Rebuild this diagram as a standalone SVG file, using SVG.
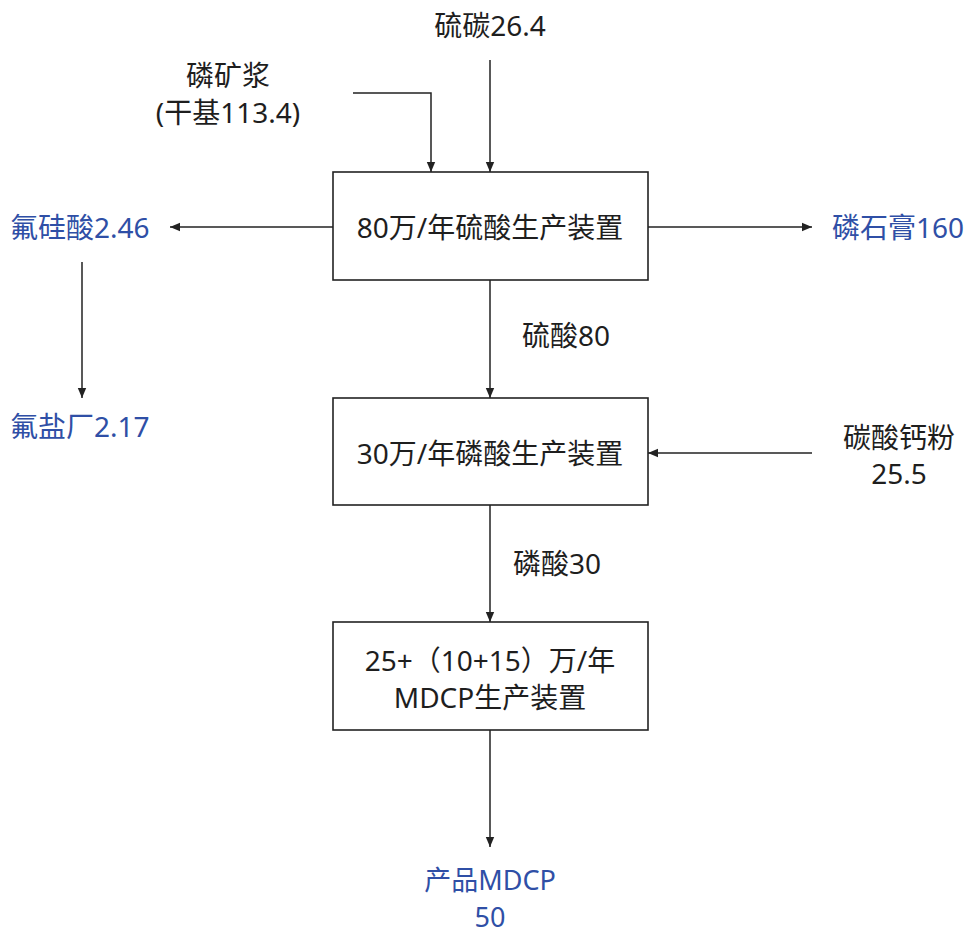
<svg xmlns="http://www.w3.org/2000/svg" width="974" height="934" viewBox="0 0 974 934">
<style>
text{font-family:"Noto Sans","Noto Sans CJK SC",sans-serif;font-size:28px;dominant-baseline:central;fill:#1e1e1e}
.b{fill:#2f4fa6}
.m{text-anchor:middle}
.p{font-size:27px}
.box{fill:#fff;stroke:#222;stroke-width:1.6}
.c{fill:none;stroke:#222;stroke-width:1.5;marker-end:url(#ah)}
</style>
<defs>
<marker id="ah" viewBox="0 0 10 10" refX="10" refY="5" markerWidth="10" markerHeight="10" markerUnits="userSpaceOnUse" orient="auto">
<path d="M0,0.8 L10,5 L0,9.2 Z" fill="#222"/>
</marker>
</defs>
<rect width="974" height="934" fill="#fff"/>
<g id="connectors">
<path class="c" d="M490,60 V172"/>
<path class="c" d="M353,93 H431 V172"/>
<path class="c" d="M333,227 H170"/>
<path class="c" d="M82,262 V398"/>
<path class="c" d="M648,227 H812"/>
<path class="c" d="M490,280 V398"/>
<path class="c" d="M812,453 H648"/>
<path class="c" d="M490,505 V622"/>
<path class="c" d="M490,730 V847"/>
</g>
<g id="n-sulfur"><text class="m" x="490" y="25">硫碳26.4</text></g>
<g id="n-slurry"><text class="m" x="228" y="75">磷矿浆</text><text class="m" x="228" y="112">(干基113.4)</text></g>
<g id="n-box1"><rect class="box" x="333" y="172" width="315" height="108"/><text class="m" x="490" y="227">80万/年硫酸生产装置</text></g>
<g id="n-fsa"><text class="b" x="10" y="227">氟硅酸2.46</text></g>
<g id="n-fplant"><text class="b" x="10" y="426">氟盐厂2.17</text></g>
<g id="n-gypsum"><text class="b" x="832" y="227">磷石膏160</text></g>
<g id="n-h2so4"><text x="522" y="335">硫酸80</text></g>
<g id="n-box2"><rect class="box" x="333" y="398" width="315" height="107"/><text class="m" x="490" y="453">30万/年磷酸生产装置</text></g>
<g id="n-caco3"><text class="m" x="899" y="437">碳酸钙粉</text><text class="m" x="899" y="473">25.5</text></g>
<g id="n-h3po4"><text x="513" y="563">磷酸30</text></g>
<g id="n-box3"><rect class="box" x="333" y="622" width="315" height="108"/><text class="m" x="490" y="660">25+（10+15）万/年</text><text class="m" x="490" y="697">MDCP生产装置</text></g>
<g id="n-product"><text class="b m p" x="490" y="879">产品MDCP</text><text class="b m p" x="490" y="916">50</text></g>
</svg>
